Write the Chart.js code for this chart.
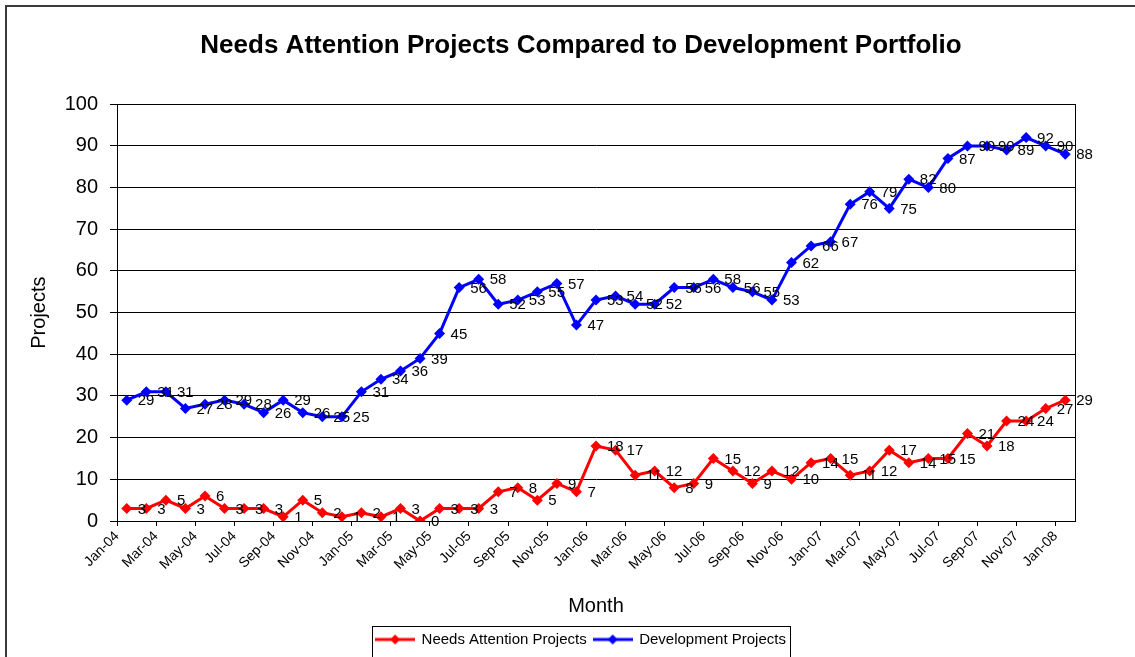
<!DOCTYPE html>
<html>
<head>
<meta charset="utf-8">
<title>Needs Attention Projects Compared to Development Portfolio</title>
<script src="https://cdn.jsdelivr.net/npm/chart.js@4.4.1/dist/chart.umd.min.js"></script>
<style>
  html, body { margin: 0; padding: 0; background: #fff; overflow: hidden; }
  #projects_chart { display: block; }
</style>
</head>
<body>
<canvas id="projects_chart" width="1135" height="657"></canvas>
<script>
"use strict";

var months = [
  'Jan-04', 'Feb-04', 'Mar-04', 'Apr-04', 'May-04', 'Jun-04', 'Jul-04', 'Aug-04', 'Sep-04', 'Oct-04', 'Nov-04', 'Dec-04',
  'Jan-05', 'Feb-05', 'Mar-05', 'Apr-05', 'May-05', 'Jun-05', 'Jul-05', 'Aug-05', 'Sep-05', 'Oct-05', 'Nov-05', 'Dec-05',
  'Jan-06', 'Feb-06', 'Mar-06', 'Apr-06', 'May-06', 'Jun-06', 'Jul-06', 'Aug-06', 'Sep-06', 'Oct-06', 'Nov-06', 'Dec-06',
  'Jan-07', 'Feb-07', 'Mar-07', 'Apr-07', 'May-07', 'Jun-07', 'Jul-07', 'Aug-07', 'Sep-07', 'Oct-07', 'Nov-07', 'Dec-07',
  'Jan-08'
];

var needs_attention = [
  3, 3, 5, 3, 6, 3, 3, 3, 1, 5, 2, 1,
  2, 1, 3, 0, 3, 3, 3, 7, 8, 5, 9, 7,
  18, 17, 11, 12, 8, 9, 15, 12, 9, 12, 10, 14,
  15, 11, 12, 17, 14, 15, 15, 21, 18, 24, 24, 27,
  29
];

var development = [
  29, 31, 31, 27, 28, 29, 28, 26, 29, 26, 25, 25,
  31, 34, 36, 39, 45, 56, 58, 52, 53, 55, 57, 47,
  53, 54, 52, 52, 56, 56, 58, 56, 55, 53, 62, 66,
  67, 76, 79, 75, 82, 80, 87, 90, 90, 89, 92, 90,
  88
];

// every second month gets a labelled tick
var tick_months = ['Jan-04', 'Mar-04', 'May-04', 'Jul-04', 'Sep-04', 'Nov-04',
  'Jan-05', 'Mar-05', 'May-05', 'Jul-05', 'Sep-05', 'Nov-05',
  'Jan-06', 'Mar-06', 'May-06', 'Jul-06', 'Sep-06', 'Nov-06',
  'Jan-07', 'Mar-07', 'May-07', 'Jul-07', 'Sep-07', 'Nov-07', 'Jan-08'];

(function () {
  var FONT, to_points, make_legend_marker, legend_markers, frame_plugin, point_labels_plugin, legend_box_plugin;

  FONT = 'Arial, "Liberation Sans", sans-serif';

  // points sit in the middle of their month, ticks on the month boundaries
  to_points = function (values) {
    return values.map(function (v, i) {
      return { x: i + 0.5, y: v };
    });
  };

  make_legend_marker = function (color) {
    var c, ctx;
    c = document.createElement('canvas');
    c.width = 40;
    c.height = 12;
    ctx = c.getContext('2d');
    ctx.strokeStyle = color;
    ctx.lineWidth = 3;
    ctx.beginPath();
    ctx.moveTo(0, 6);
    ctx.lineTo(40, 6);
    ctx.stroke();
    ctx.fillStyle = color;
    ctx.beginPath();
    ctx.moveTo(20, 1);
    ctx.lineTo(25, 6);
    ctx.lineTo(20, 11);
    ctx.lineTo(15, 6);
    ctx.closePath();
    ctx.fill();
    return c;
  };
  legend_markers = [make_legend_marker('#ff0000'), make_legend_marker('#0000ff')];

  frame_plugin = {
    id: 'frame',
    beforeDraw: function (chart) {
      var ctx = chart.ctx;
      ctx.save();
      ctx.fillStyle = '#fff';
      ctx.fillRect(0, 0, chart.width, chart.height);
      ctx.strokeStyle = '#3a3a3a';
      ctx.lineWidth = 2;
      ctx.beginPath();
      ctx.moveTo(6, chart.height);
      ctx.lineTo(6, 6);
      ctx.lineTo(chart.width, 6);
      ctx.stroke();
      ctx.restore();
    },
    afterDraw: function (chart) {
      var ctx = chart.ctx, a = chart.chartArea;
      ctx.save();
      ctx.strokeStyle = '#000';
      ctx.lineWidth = 1;
      ctx.strokeRect(Math.round(a.left) + 0.5, Math.round(a.top) + 0.5,
        Math.round(a.right - a.left), Math.round(a.bottom - a.top));
      ctx.restore();
    }
  };

  point_labels_plugin = {
    id: 'point_labels',
    afterDatasetsDraw: function (chart) {
      var ctx = chart.ctx;
      ctx.save();
      ctx.font = '15px ' + FONT;
      ctx.fillStyle = '#000';
      ctx.textAlign = 'left';
      ctx.textBaseline = 'middle';
      chart.data.datasets.forEach(function (dataset, i) {
        chart.getDatasetMeta(i).data.forEach(function (point, j) {
          ctx.fillText(String(dataset.data[j].y), point.x + 11, point.y + 1);
        });
      });
      ctx.restore();
    }
  };

  legend_box_plugin = {
    id: 'legend_box',
    afterDraw: function (chart) {
      var ctx, boxes, left, right, top;
      boxes = chart.legend.legendHitBoxes;
      if (!boxes || boxes.length < 1) {
        return;
      }
      left = Math.min.apply(null, boxes.map(function (b) { return b.left; })) - 4;
      right = Math.max.apply(null, boxes.map(function (b) { return b.left + b.width; })) + 4;
      top = boxes[0].top - 6;
      ctx = chart.ctx;
      ctx.save();
      ctx.strokeStyle = '#000';
      ctx.lineWidth = 1;
      ctx.strokeRect(Math.round(left) + 0.5, Math.round(top) + 0.5, Math.round(right - left), 40);
      ctx.restore();
    }
  };

  new Chart(document.getElementById('projects_chart').getContext('2d'), {
    type: 'line',
    data: {
      datasets: [{
        label: 'Needs Attention Projects',
        data: to_points(needs_attention),
        borderColor: '#ff0000',
        backgroundColor: '#ff0000',
        borderWidth: 3,
        pointStyle: 'rectRot',
        pointRadius: 5.5,
        pointBorderWidth: 0,
        tension: 0
      }, {
        label: 'Development Projects',
        data: to_points(development),
        borderColor: '#0000ff',
        backgroundColor: '#0000ff',
        borderWidth: 3,
        pointStyle: 'rectRot',
        pointRadius: 5.5,
        pointBorderWidth: 0,
        tension: 0
      }]
    },
    options: {
      responsive: false,
      animation: false,
      layout: {
        padding: { left: 27, right: 0, top: 0, bottom: 0 }
      },
      scales: {
        x: {
          type: 'linear',
          min: 0,
          max: months.length,
          afterBuildTicks: function (scale) {
            scale.ticks = tick_months.map(function (m) {
              return { value: months.indexOf(m) };
            });
          },
          afterFit: function (scale) {
            scale.height = 104;
          },
          grid: {
            drawOnChartArea: false,
            color: '#000',
            tickLength: 5
          },
          border: { color: '#000' },
          ticks: {
            autoSkip: false,
            maxRotation: 45,
            minRotation: 45,
            padding: 2,
            color: '#000',
            font: { family: FONT, size: 14 },
            callback: function (value) {
              return months[value] || '';
            }
          },
          title: {
            display: true,
            text: 'Month',
            color: '#000',
            font: { family: FONT, size: 20 },
            padding: { top: 0, bottom: 7 }
          }
        },
        y: {
          min: 0,
          max: 100,
          afterFit: function (scale) {
            scale.width = 90;
          },
          grid: {
            color: '#000',
            lineWidth: 1,
            tickLength: 7
          },
          border: { color: '#000' },
          ticks: {
            stepSize: 10,
            padding: 12,
            color: '#000',
            font: { family: FONT, size: 20 }
          },
          title: {
            display: true,
            text: 'Projects',
            color: '#000',
            font: { family: FONT, size: 20 },
            padding: { top: 0, bottom: 0 }
          }
        },
        y_right: {
          position: 'right',
          display: true,
          afterFit: function (scale) {
            scale.width = 60;
          },
          grid: { display: false },
          border: { display: false },
          ticks: { display: false }
        }
      },
      plugins: {
        title: {
          display: true,
          text: 'Needs Attention Projects Compared to Development Portfolio',
          color: '#000',
          font: { family: FONT, size: 26, weight: 'bold' },
          padding: { top: 30, bottom: 43 }
        },
        legend: {
          position: 'bottom',
          labels: {
            usePointStyle: true,
            pointStyleWidth: 38,
            padding: 7,
            color: '#000',
            font: { family: FONT, size: 15 },
            generateLabels: function (chart) {
              var items = Chart.defaults.plugins.legend.labels.generateLabels(chart);
              items.forEach(function (item, i) {
                item.pointStyle = legend_markers[i];
              });
              return items;
            }
          }
        },
        tooltip: { enabled: false }
      }
    },
    plugins: [frame_plugin, point_labels_plugin, legend_box_plugin]
  });
}).call(void 0);
</script>
</body>
</html>
